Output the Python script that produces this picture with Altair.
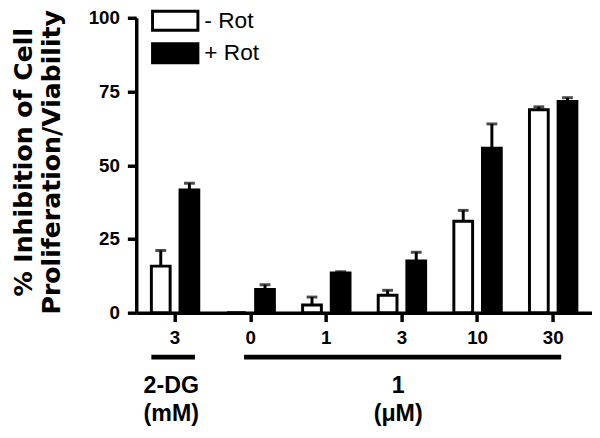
import altair as alt
import pandas as pd

# ---- data ----
groups = ["3 mM", "0 μM", "1 μM", "3 μM", "10 μM", "30 μM"]
series = ["- Rot", "+ Rot"]
minus_rot = [15.8, 0.0, 2.6, 5.9, 31.0, 68.8]
minus_rot_err = [5.3, 0.0, 2.7, 1.7, 3.7, 1.0]
plus_rot = [41.6, 7.9, 13.5, 17.5, 55.8, 71.6]
plus_rot_err = [2.3, 1.6, 0.4, 3.0, 8.2, 1.3]
y_ticks = [0, 25, 50, 75, 100]

bracket_names = ["2-DG\n(mM)", "1\n(μM)"]
bracket_start = ["3 mM", "0 μM"]
bracket_end = ["3 mM", "30 μM"]
bracket_label_at = ["3 mM", "3 μM"]

rows = []
for i, g in enumerate(groups):
    rows.append({"group": g, "rot": series[0], "value": minus_rot[i], "err": minus_rot_err[i]})
    rows.append({"group": g, "rot": series[1], "value": plus_rot[i], "err": plus_rot_err[i]})
df = pd.DataFrame(rows)

brackets = pd.DataFrame({
    "name": bracket_names,
    "start": bracket_start,
    "end": bracket_end,
    "at": bracket_label_at,
})

FONT = "Liberation Sans"
TITLE_FONT = "DejaVu Sans"

xscale = alt.Scale(domain=groups, paddingInner=0.373, paddingOuter=0.2, align=0.5)
xaxis = alt.Axis(
    title=None, labelExpr="split(datum.label, ' ')[0]", labelAngle=0,
    labelFontSize=19, labelFontWeight="bold", labelColor="black", labelFont=FONT,
    labelPadding=7, tickSize=9, tickWidth=3.5, tickColor="black",
    domainWidth=3.5, domainColor="black", grid=False,
)
offset_scale = alt.Scale(domain=series, paddingInner=0.345, paddingOuter=0)
yscale = alt.Scale(domain=[0, 100], nice=False)
yaxis = alt.Axis(
    values=y_ticks, grid=False,
    title=["% Inhibition of Cell", "Proliferation/Viability"],
    titleFontSize=25.5, titleFontWeight="bold", titleFont=TITLE_FONT, titleColor="black",
    titleLineHeight=28, titleX=-106, titleY=146, titleAlign="center",
    titleBaseline="alphabetic", titleAngle=270,
    labelFontSize=19, labelFontWeight="bold", labelFont=FONT, labelColor="black",
    labelPadding=8, tickSize=9, tickWidth=3.5, tickColor="black",
    domainWidth=3.5, domainColor="black",
)

X = alt.X("group:N", scale=xscale, axis=xaxis)
XO = alt.XOffset("rot:N", scale=offset_scale)

legend = alt.Legend(
    orient="none", legendX=15, legendY=-9, title=None,
    symbolType="M-1,-0.42L1,-0.42L1,0.42L-1,0.42Z", symbolSize=2116,
    symbolStrokeColor="black", symbolStrokeWidth=3, symbolOpacity=1,
    labelFontSize=23, labelFont=FONT, labelFontWeight="normal", labelColor="black",
    labelOffset=5, clipHeight=24, rowPadding=9, padding=0, symbolOffset=0,
)

bars = alt.Chart(df).mark_bar(stroke="black", strokeWidth=3, opacity=1).encode(
    x=X,
    xOffset=XO,
    y=alt.Y("value:Q", scale=yscale, axis=yaxis),
    fill=alt.Fill("rot:N", scale=alt.Scale(domain=series, range=["white", "black"]), legend=legend),
)

err_base = alt.Chart(df).transform_filter("datum.err > 0").transform_calculate(top="datum.value + datum.err")
err_rule = err_base.mark_rule(color="black", strokeWidth=3).encode(
    x=X, xOffset=XO,
    y=alt.Y("value:Q", scale=yscale, axis=yaxis),
    y2="top:Q",
)
err_cap = err_base.mark_tick(color="black", thickness=3, size=11, orient="horizontal").encode(
    x=X, xOffset=XO,
    y=alt.Y("top:Q", scale=yscale, axis=yaxis),
)

b1 = alt.Chart(brackets.iloc[[0]]).mark_rule(color="black", strokeWidth=5).encode(
    x=alt.X("start:N", scale=xscale, axis=xaxis, bandPosition=0.0),
    x2=alt.X2("end:N", bandPosition=0.92),
    y=alt.value(344),
)
b2 = alt.Chart(brackets.iloc[[1]]).mark_rule(color="black", strokeWidth=5).encode(
    x=alt.X("start:N", scale=xscale, axis=xaxis, bandPosition=0.36),
    x2=alt.X2("end:N", bandPosition=0.67),
    y=alt.value(344),
)
btext = alt.Chart(brackets).mark_text(
    font=FONT, fontSize=23.5, fontWeight="bold", color="black",
    lineBreak="\n", lineHeight=29, baseline="middle", align="center",
).encode(
    x=alt.X("at:N", scale=xscale, axis=xaxis, bandPosition=0.42),
    y=alt.value(373),
    text="name:N",
)

# total svg height 422 so the page (8px margins) stays within 438px
chart = alt.layer(bars, err_rule, err_cap, b1, b2, btext).properties(
    width=462, height=299,
    padding={"left": 130, "top": 7, "right": 0, "bottom": 116},
    autosize="none",
).configure(font=FONT).configure_view(strokeWidth=0)

chart.save("out.html", embed_options={"renderer": "svg", "actions": False})
